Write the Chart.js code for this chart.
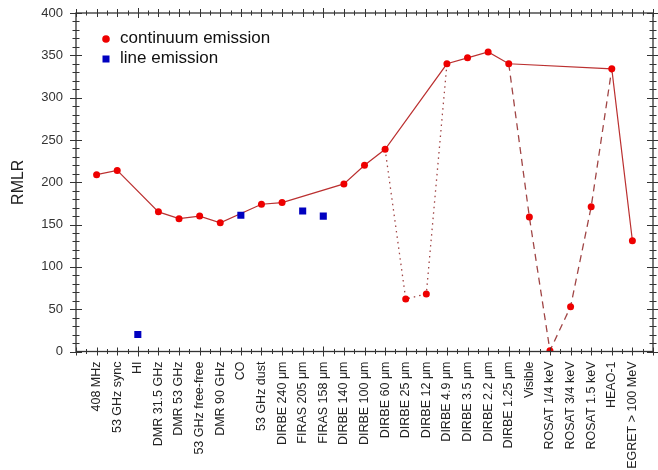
<!DOCTYPE html>
<html>
<head>
<meta charset="utf-8">
<script src="https://cdn.jsdelivr.net/npm/chart.js@4/dist/chart.umd.min.js"></script>
<style>
  body { margin: 0; background: #fff; }
  #wrap { width: 658px; height: 470px; }
</style>
</head>
<body>
<div id="wrap"><canvas id="myChart"></canvas></div>
<script>
const categories = ["408 MHz", "53 GHz sync", "HI", "DMR 31.5 GHz", "DMR 53 GHz", "53 GHz free-free",
  "DMR 90 GHz", "CO", "53 GHz dust", "DIRBE 240 \u03bcm", "FIRAS 205 \u03bcm", "FIRAS 158 \u03bcm",
  "DIRBE 140 \u03bcm", "DIRBE 100 \u03bcm", "DIRBE 60 \u03bcm", "DIRBE 25 \u03bcm", "DIRBE 12 \u03bcm",
  "DIRBE 4.9 \u03bcm", "DIRBE 3.5 \u03bcm", "DIRBE 2.2 \u03bcm", "DIRBE 1.25 \u03bcm", "Visible",
  "ROSAT 1/4 keV", "ROSAT 3/4 keV", "ROSAT 1.5 keV", "HEAO-1", "EGRET > 100 MeV"]

// continuum emission (red dots)
const continuum = [209, 214, null, 165, 157, 160, 152, null, 174, 176, null, null,
  198, 220, 239, 62, 68, 340, 347, 354, 340, 159, 1, 53, 171, 334, 131]
// line emission (blue squares)
const lineEmission = [null, null, 20, null, null, null, null, 161, null, null, 166, 160,
  null, null, null, null, null, null, null, null, null, null, null, null, null, null, null]

// which categories each connecting line passes through
const solidPath = [0, 1, 3, 4, 5, 6, 8, 9, 12, 13, 14, 17, 18, 19, 20, 25, 26]
const dottedPath = [14, 15, 16, 17]
const dashedPath = [20, 21, 22, 23, 24, 25]

const yTicks = [0, 50, 100, 150, 200, 250, 300, 350, 400]

function toPoints(values) {
  let pts = []
  values.forEach((v, i) => { if (v !== null) pts.push({ x: i, y: v }) })
  return pts
}
function pathPoints(idx) {
  return idx.map(i => ({ x: i, y: continuum[i] }))
}

// frame + tick marks crossing the axes, and legend inside the plot
const framePlugin = {
  id: 'frame',
  afterDraw(chart) {
    const ctx = chart.ctx
    const a = chart.chartArea
    const xs = chart.scales.x
    const ys = chart.scales.y
    ctx.save()
    ctx.strokeStyle = '#333'
    ctx.lineWidth = 1.3
    ctx.strokeRect(a.left, a.top, a.right - a.left, a.bottom - a.top)
    ctx.lineWidth = 1
    for (let k = -2; k <= 54; k++) {
      const v = k / 2
      const px = Math.round(xs.getPixelForValue(v)) + 0.5
      let len = 2.5
      if (k % 2 === 0) len = ((v - 2) % 9 === 0) ? 5 : 4
      ctx.beginPath()
      ctx.moveTo(px, a.bottom - len); ctx.lineTo(px, a.bottom + len)
      ctx.moveTo(px, a.top - len); ctx.lineTo(px, a.top + len)
      ctx.stroke()
    }
    for (let v = 0; v <= 400; v += 10) {
      const py = Math.round(ys.getPixelForValue(v)) + 0.5
      const len = (v % 50 === 0) ? 6 : 3.5
      ctx.beginPath()
      ctx.moveTo(a.left - len, py); ctx.lineTo(a.left + len, py)
      ctx.moveTo(a.right - len, py); ctx.lineTo(a.right + len, py)
      ctx.stroke()
    }
    // legend
    ctx.font = '17px "Liberation Sans", Arial, sans-serif'
    ctx.textBaseline = 'middle'
    ctx.fillStyle = '#111'
    ctx.fillText(chart.data.datasets[0].label, 120, 38)
    ctx.fillText(chart.data.datasets[1].label, 120, 58)
    ctx.fillStyle = '#ee0000'
    ctx.beginPath(); ctx.arc(106, 39, 3.8, 0, Math.PI * 2); ctx.fill()
    ctx.fillStyle = '#0000c0'
    ctx.fillRect(102.5, 55.5, 7, 7)
    ctx.restore()
  }
}

const ctx = document.getElementById('myChart')
new Chart(ctx, {
  type: 'scatter',
  data: {
    datasets: [
      { label: 'continuum emission', data: toPoints(continuum), showLine: false,
        pointStyle: 'circle', pointRadius: 3.5, backgroundColor: '#ee0000', borderColor: '#ee0000', borderWidth: 0 },
      { label: 'line emission', data: toPoints(lineEmission), showLine: false,
        pointStyle: 'rect', pointRadius: 5, backgroundColor: '#0000c0', borderColor: '#0000c0', borderWidth: 0 },
      { label: 'solid', data: pathPoints(solidPath), showLine: true, pointRadius: 0,
        borderColor: '#bb3030', borderWidth: 1.2, tension: 0 },
      { label: 'dotted', data: pathPoints(dottedPath), showLine: true, pointRadius: 0,
        borderColor: '#a04545', borderWidth: 1.3, borderDash: [1.5, 4], tension: 0 },
      { label: 'dashed', data: pathPoints(dashedPath), showLine: true, pointRadius: 0,
        borderColor: '#a04545', borderWidth: 1.3, borderDash: [7, 5], tension: 0 }
    ]
  },
  options: {
    responsive: true,
    maintainAspectRatio: false,
    animation: false,
    layout: { padding: { top: 13, right: 5, left: 0, bottom: 0 } },
    plugins: { legend: { display: false }, tooltip: { enabled: false } },
    scales: {
      x: {
        type: 'linear', min: -1, max: 27,
        grid: { display: false, drawTicks: false },
        border: { display: false },
        afterBuildTicks: scale => { scale.ticks = categories.map((c, i) => ({ value: i })) },
        afterFit: scale => { scale.height = 118.5; scale.paddingLeft = 0; scale.paddingRight = 0 },
        ticks: {
          autoSkip: false, maxRotation: 90, minRotation: 90, padding: 10,
          color: '#222', font: { family: '"Liberation Sans", Arial, sans-serif', size: 12.5 },
          callback: v => categories[v]
        }
      },
      y: {
        min: 0, max: 400,
        grid: { display: false, drawTicks: false },
        border: { display: false },
        afterBuildTicks: scale => { scale.ticks = yTicks.map(v => ({ value: v })) },
        afterFit: scale => { scale.width = 76; scale.paddingTop = 0; scale.paddingBottom = 0 },
        title: {
          display: true, text: 'RMLR', color: '#222', padding: { top: 9, bottom: 0 },
          font: { family: '"Liberation Sans", Arial, sans-serif', size: 16 }
        },
        ticks: {
          padding: 13, color: '#333',
          font: { family: '"Liberation Sans", Arial, sans-serif', size: 13 }
        }
      }
    }
  },
  plugins: [framePlugin]
})
</script>
</body>
</html>
